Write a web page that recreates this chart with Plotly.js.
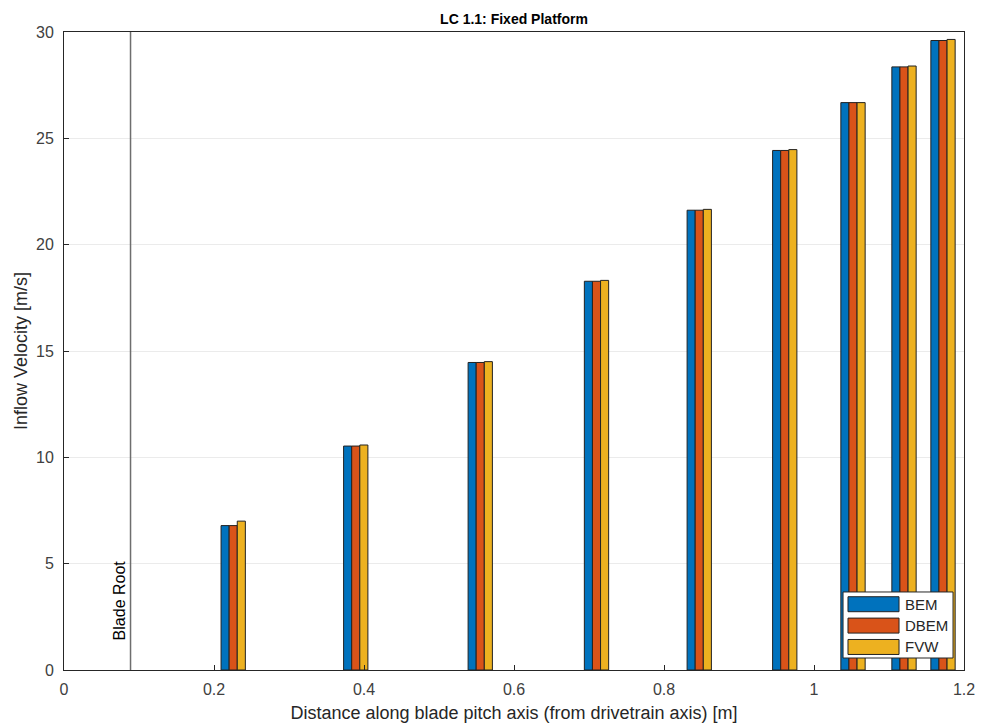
<!DOCTYPE html>
<html>
<head>
<meta charset="utf-8">
<script src="https://cdn.plot.ly/plotly-3.0.1.min.js"></script>
<style>
  html, body { margin: 0; padding: 0; background: #fff; }
  #chart { width: 981px; height: 728px; }
</style>
</head>
<body>
<div id="chart"></div>
<script>
// Radial stations along the blade pitch axis [m]
const positions = [0.2256, 0.389, 0.555, 0.710, 0.847, 0.961, 1.052, 1.120, 1.172];

// Inflow velocity per model [m/s]
const bem  = [6.79, 10.53, 14.46, 18.28, 21.62, 24.43, 26.68, 28.36, 29.60];
const dbem = [6.79, 10.53, 14.46, 18.28, 21.62, 24.43, 26.68, 28.36, 29.60];
const fvw  = [7.00, 10.58, 14.50, 18.32, 21.66, 24.47, 26.68, 28.40, 29.65];

const seriesNames = ['BEM', 'DBEM', 'FVW'];
const seriesColors = ['#0072BD', '#D95319', '#EDB120'];

// Blade root location [m]
const bladeRoot = 0.0887;

const xTicks = [0, 0.2, 0.4, 0.6, 0.8, 1, 1.2];
const xTickText = ['0', '0.2', '0.4', '0.6', '0.8', '1', '1.2'];
const yTicks = [0, 5, 10, 15, 20, 25, 30];

const barW = 0.0108;
const offsets = [-1.5 * barW, -0.5 * barW, 0.5 * barW];
const values = [bem, dbem, fvw];
const edge = { color: '#222222', width: 1 };

const traces = values.map((v, i) => ({
  type: 'bar',
  name: seriesNames[i],
  x: positions,
  y: v,
  width: barW,
  offset: offsets[i],
  marker: { color: seriesColors[i], line: edge },
  hoverinfo: 'x+y+name'
}));

const font = { family: 'Liberation Sans, Arial, Helvetica, sans-serif', color: '#262626' };

// Boxed legend with wide colour patches, in plot-area (paper) units
const legBox = { x0: 0.8656, x1: 0.9878, y0: 0.0188, y1: 0.1223 };
const patch = { x0: 0.8711, x1: 0.9278, h: 0.0235 };
const rowTop = 0.1031;   // centre of the first row
const rowStep = 0.0335;
const textX = 0.9322;

const shapes = [
  {
    type: 'line', xref: 'x', yref: 'paper',
    x0: bladeRoot, x1: bladeRoot, y0: 0, y1: 1,
    line: { color: '#6e6e6e', width: 1.5 }
  },
  {
    type: 'rect', xref: 'paper', yref: 'paper',
    x0: legBox.x0, x1: legBox.x1, y0: legBox.y0, y1: legBox.y1,
    fillcolor: '#ffffff', line: { color: '#262626', width: 1 }
  }
];
const annotations = [{
  text: 'Blade Root',
  xref: 'x', yref: 'y',
  x: bladeRoot, y: 1.3,
  xanchor: 'right', yanchor: 'bottom',
  xshift: -1,
  textangle: -90,
  showarrow: false,
  font: Object.assign({}, font, { size: 16, color: '#000000' })
}];

seriesNames.forEach((name, i) => {
  const yc = rowTop - i * rowStep;
  shapes.push({
    type: 'rect', xref: 'paper', yref: 'paper',
    x0: patch.x0, x1: patch.x1, y0: yc - patch.h / 2, y1: yc + patch.h / 2,
    fillcolor: seriesColors[i], line: edge
  });
  annotations.push({
    text: name, xref: 'paper', yref: 'paper',
    x: textX, y: yc, xanchor: 'left', yanchor: 'middle',
    showarrow: false,
    font: Object.assign({}, font, { size: 15, color: '#262626' })
  });
});

const layout = {
  width: 981,
  height: 728,
  margin: { l: 64, r: 17, t: 32, b: 58 },
  paper_bgcolor: '#ffffff',
  plot_bgcolor: '#ffffff',
  barmode: 'overlay',
  showlegend: false,
  font: Object.assign({ size: 16 }, font),
  title: {
    text: '<b>LC 1.1: Fixed Platform</b>',
    font: Object.assign({}, font, { size: 14, color: '#000000' }),
    x: 0.5, xref: 'paper', xanchor: 'center',
    y: 1, yref: 'paper', yanchor: 'bottom', pad: { b: 8 }
  },
  xaxis: {
    range: [0, 1.2],
    tickvals: xTicks,
    ticktext: xTickText,
    ticks: 'inside',
    ticklen: 5,
    tickcolor: '#262626',
    ticklabelstandoff: 5,
    showgrid: false,
    zeroline: false,
    showline: true,
    linecolor: '#262626',
    linewidth: 1,
    mirror: true,
    tickfont: Object.assign({}, font, { size: 16, color: '#404040' }),
    title: {
      text: 'Distance along blade pitch axis (from drivetrain axis) [m]',
      font: Object.assign({}, font, { size: 18, color: '#262626' }),
      standoff: 9
    }
  },
  yaxis: {
    range: [0, 30],
    tickvals: yTicks,
    ticks: 'inside',
    ticklen: 5,
    tickcolor: '#262626',
    ticklabelstandoff: 6,
    showgrid: true,
    gridcolor: '#ebebeb',
    gridwidth: 1,
    zeroline: false,
    showline: true,
    linecolor: '#262626',
    linewidth: 1,
    mirror: true,
    tickfont: Object.assign({}, font, { size: 16, color: '#404040' }),
    title: {
      text: 'Inflow Velocity [m/s]',
      font: Object.assign({}, font, { size: 18, color: '#262626' }),
      standoff: 3
    }
  },
  shapes: shapes,
  annotations: annotations
};

Plotly.newPlot('chart', traces, layout, { displayModeBar: false, staticPlot: true });
</script>
</body>
</html>
